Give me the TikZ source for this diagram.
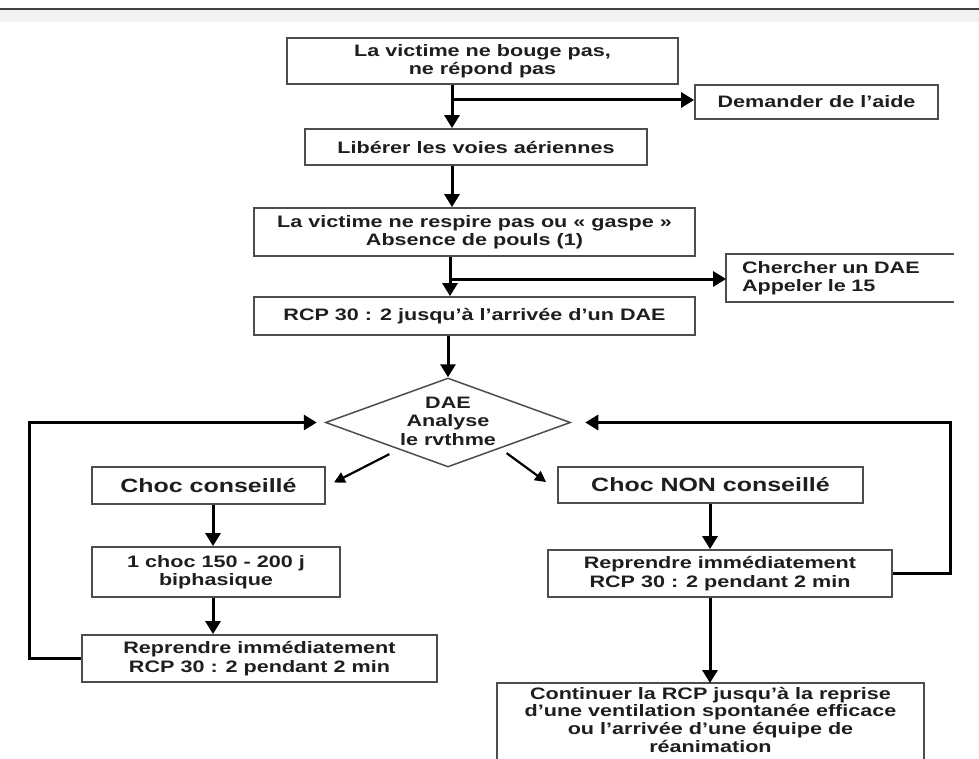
\documentclass[tikz,border=0pt]{standalone}
\usepackage{fontspec}
\setmainfont{Liberation Sans}[FakeStretch=1.3]
\usetikzlibrary{arrows.meta,shapes.geometric,calc}
\definecolor{boxgray}{HTML}{4D4D4D}
\definecolor{txt}{HTML}{1E1E1E}
\begin{document}
\begin{tikzpicture}[x=1pt,y=-1pt,
  box/.style={draw=boxgray,line width=1.8pt,rectangle,inner sep=0pt,align=center,
    font=\fontsize{16.6}{18.5}\selectfont\bfseries,text=txt},
  bigbox/.style={box,font=\fontsize{19.2}{21}\selectfont\bfseries},
  edge/.style={draw=boxgray,line width=1.8pt},
  arr/.style={line width=3pt,-{Triangle[length=13pt,width=15pt]},draw=black},
  diag/.style={line width=2.2pt,-{Triangle[length=11pt,width=11pt]},draw=black}]
\useasboundingbox (0,0) rectangle (979,759);
\clip (0,0) rectangle (979,759);
\fill[black!5] (0,10) rectangle (979,22);
\draw[line width=2.5pt,black!75] (0,9) -- (979,9);

\node[box,minimum width=391pt,minimum height=46pt] (b1) at (482.5,61) {La victime ne bouge pas,\\ne répond pas};
\node[box,minimum width=243pt,minimum height=34pt] (dem) at (816.5,102) {Demander de l'aide};
\node[box,minimum width=342pt,minimum height=36pt] (b2) at (476,147) {Libérer les voies aériennes};
\node[box,minimum width=441pt,minimum height=48pt] (b3) at (474.5,232) {La victime ne respire pas ou « gaspe »\\Absence de pouls (1)};
\node[box,draw=none,minimum width=226pt,minimum height=46pt,text width=196pt,align=left] (cher) at (840,278) {Chercher un DAE\\Appeler le 15};
\draw[edge] (cher.north east) -- (cher.north west) -- (cher.south west) -- (cher.south east);
\node[box,minimum width=441pt,minimum height=38pt] (b4) at (474.5,316) {RCP 30 : 2 jusqu'à l'arrivée d'un DAE};

\node[diamond,draw=boxgray,line width=1.5pt,minimum width=245pt,minimum height=89pt,inner sep=0pt] (dae) at (448,422.5) {};
\node[box,draw=none] (daet) at (448,421) {DAE\\Analyse\\le rvthme};

\node[bigbox,minimum width=233pt,minimum height=37pt] (c1) at (208.5,485.5) {Choc conseillé};
\node[bigbox,minimum width=305pt,minimum height=36pt] (c2) at (710.5,485) {Choc NON conseillé};
\node[box,minimum width=248pt,minimum height=50pt] (ch1) at (216,572) {1 choc 150 - 200 j\\biphasique};
\node[box,minimum width=355pt,minimum height=47pt] (r1) at (259.5,658.5) {Reprendre immédiatement\\RCP 30 : 2 pendant 2 min};
\node[box,minimum width=344pt,minimum height=47pt] (r2) at (720,573.5) {Reprendre immédiatement\\RCP 30 : 2 pendant 2 min};
\node[box,draw=none,anchor=north,minimum width=425pt,inner ysep=3pt,font=\fontsize{16.6}{17.8}\selectfont\bfseries] (cont) at (710.5,683) {Continuer la RCP jusqu'à la reprise\\d'une ventilation spontanée efficace\\ou l'arrivée d'une équipe de\\réanimation};
\draw[edge] ($(cont.south west)+(0,30)$) -- (cont.north west) -- (cont.north east) -- ($(cont.south east)+(0,30)$);

\coordinate (xa) at (452,100);
\draw[arr] (xa |- b1.south) -- (xa |- b2.north);
\draw[arr] (xa) -- (xa -| dem.west);
\draw[arr] (xa |- b2.south) -- (xa |- b3.north);
\coordinate (xb) at (450,279);
\draw[arr] (xb |- b3.south) -- (xb |- b4.north);
\draw[arr] (xb) -- (xb -| cher.west);
\draw[arr] (dae.north |- b4.south) -- (dae.north);

\draw[diag] ($(dae.south west)+(3,9)$) -- ($(c1.east)+(8,-3)$);
\draw[diag] ($(dae.south east)+(-3,8)$) -- ($(c2.west)+(-11,-3)$);

\coordinate (xc) at (213,500);
\draw[arr] (xc |- c1.south) -- (xc |- ch1.north);
\draw[arr] (xc |- ch1.south) -- (xc |- r1.north);
\coordinate (xd) at (710,500);
\draw[arr] (xd |- c2.south) -- (xd |- r2.north);
\draw[arr] (xd |- r2.south) -- (xd |- cont.north);

\coordinate (lp) at (29,422.5);
\draw[arr] (r1.west) -| (lp) -- ($(dae.west)+(-8,0)$);
\coordinate (rp) at (950,422.5);
\draw[arr] (r2.east) -| (rp) -- ($(dae.east)+(14,0)$);
\end{tikzpicture}
\end{document}
